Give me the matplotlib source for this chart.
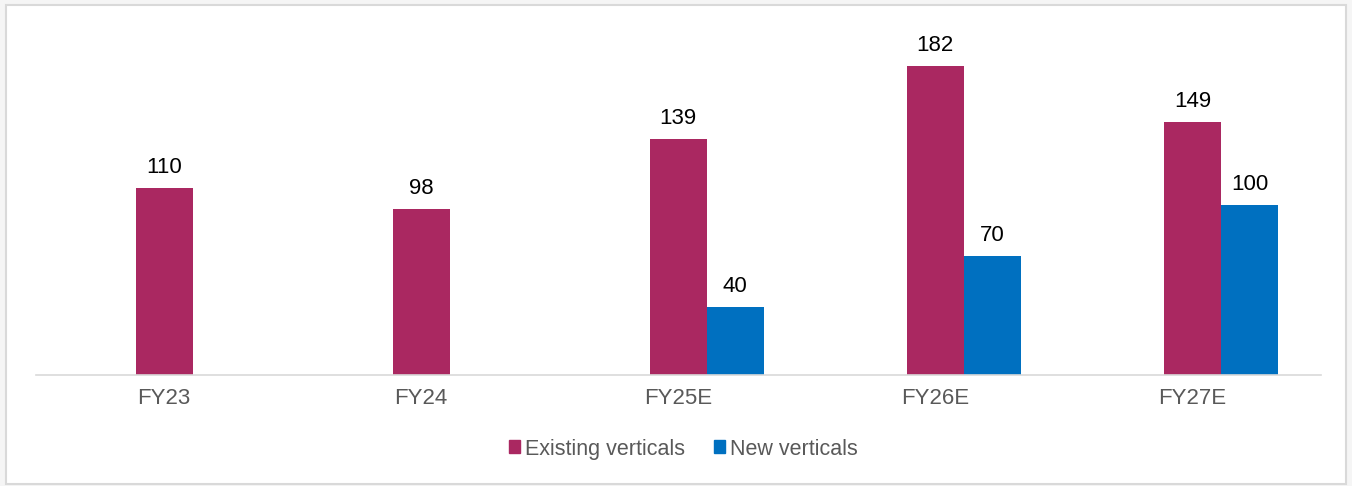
import matplotlib
matplotlib.use("Agg")
import matplotlib.pyplot as plt
from matplotlib.patches import Rectangle
import numpy as np

plt.rcParams['font.family'] = ['Liberation Sans', 'DejaVu Sans']

categories = ["FY23", "FY24", "FY25E", "FY26E", "FY27E"]
existing = [110, 98, 139, 182, 149]
new = [None, None, 40, 70, 100]

c_exist = "#AA2861"
c_new = "#0070C0"

W, H = 1352, 486
fig = plt.figure(figsize=(W / 100, H / 100), dpi=100)
fig.patch.set_facecolor("#f5f5f5")
fig.add_artist(Rectangle((6 / W, 1 - 484 / H), (1346 - 6) / W, (484 - 5) / H,
                         transform=fig.transFigure, facecolor="white",
                         edgecolor="#d9d9d9", linewidth=1.5, zorder=0))

ax = fig.add_axes([35.5 / W, 1 - 375 / H, (1321 - 35.5) / W, (375 - 15) / H])
ax.set_facecolor("none")
x = np.arange(len(categories))
bw = 0.222


def label(xp, v):
    ax.annotate(str(v), (xp, v), xytext=(0, 15), textcoords="offset pixels",
                ha="center", va="baseline", fontsize=16, color="black")


for i in range(len(categories)):
    ax.bar(x[i], existing[i], bw, color=c_exist)
    label(x[i], existing[i])
    if new[i] is not None:
        ax.bar(x[i] + bw, new[i], bw, color=c_new)
        label(x[i] + bw, new[i])

ax.set_xlim(-0.5, len(categories) - 0.5)
ax.set_ylim(0, 212)
ax.set_yticks([])
ax.set_xticks(x)
ax.set_xticklabels(categories, fontsize=16, color="#595959")
ax.tick_params(axis="x", length=0, pad=9)
for s in ["top", "right", "left"]:
    ax.spines[s].set_visible(False)
ax.spines["bottom"].set_color("#d9d9d9")
ax.spines["bottom"].set_linewidth(1.2)

handles = [Rectangle((0, 0), 1, 1, color=c_exist), Rectangle((0, 0), 1, 1, color=c_new)]
fig.legend(handles, ["Existing verticals", "New verticals"], loc="center",
           bbox_to_anchor=(683 / W, 1 - 449 / H), ncol=2, frameon=False,
           fontsize=15.5, labelcolor="#595959", handlelength=0.52, handleheight=0.55,
           handletextpad=0.22, columnspacing=1.35)

fig.savefig("out.png", dpi=100, facecolor=fig.get_facecolor())
